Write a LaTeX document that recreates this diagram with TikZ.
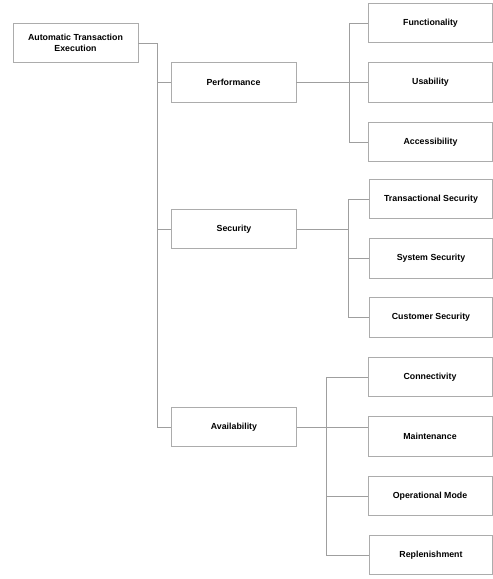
\documentclass[tikz,border=0pt]{standalone}
\usepackage{fontspec}
\setmainfont{Liberation Sans}
\begin{document}
\begin{tikzpicture}[
    x=1pt, y=-1pt,
    box/.style={rectangle, draw=gray!65, line width=0.8pt, minimum width=125pt, minimum height=39.5pt, align=center, font=\fontsize{8.8}{10.8}\selectfont\bfseries},
    link/.style={draw=gray!75, line width=0.8pt}
]
    \useasboundingbox (0,0) rectangle (493,579);

    % Root
    \node[box] (root) at (75.5,43) {Automatic Transaction\\Execution};

    % Main criteria
    \node[box] (perf) at (233.5,82.5) {Performance};
    \node[box] (sec) at (234,229) {Security};
    \node[box] (avail) at (234,427) {Availability};

    % Sub criteria
    \node[box, minimum width=124pt] (func) at (430.5,23) {Functionality};
    \node[box, minimum width=124pt] (usab) at (430.5,82.5) {Usability};
    \node[box, minimum width=124pt] (access) at (430.5,142) {Accessibility};
    \node[box, minimum width=123pt] (transsec) at (431,199) {Transactional Security};
    \node[box, minimum width=123pt] (syssec) at (431,258.5) {System Security};
    \node[box, minimum width=123pt] (custsec) at (431,317.5) {Customer Security};
    \node[box, minimum width=124pt] (conn) at (430,377) {Connectivity};
    \node[box, minimum width=124pt] (maint) at (430,436.5) {Maintenance};
    \node[box, minimum width=124pt] (opmode) at (430,496) {Operational Mode};
    \node[box, minimum width=123pt] (repl) at (431,555) {Replenishment};

    % Root branches
    \coordinate (rootbus) at (157,43);
    \draw[link] (root.east) -- (rootbus) |- (avail.west);
    \draw[link] (rootbus |- perf.west) -- (perf.west);
    \draw[link] (rootbus |- sec.west) -- (sec.west);

    % Performance branches
    \coordinate (perfbus) at (349,82.5);
    \draw[link] (perf.east) -- (usab.west);
    \draw[link] (func.west) -| (perfbus |- access.west) -- (access.west);

    % Security branches
    \coordinate (secbus) at (348,229);
    \draw[link] (sec.east) -- (secbus);
    \draw[link] (transsec.west) -| (secbus |- custsec.west) -- (custsec.west);
    \draw[link] (secbus |- syssec.west) -- (syssec.west);

    % Availability branches
    \coordinate (availbus) at (326,427);
    \draw[link] (avail.east) -- (avail.east -| maint.west);
    \draw[link] (conn.west) -| (availbus |- repl.west) -- (repl.west);
    \draw[link] (availbus |- opmode.west) -- (opmode.west);

\end{tikzpicture}
\end{document}
